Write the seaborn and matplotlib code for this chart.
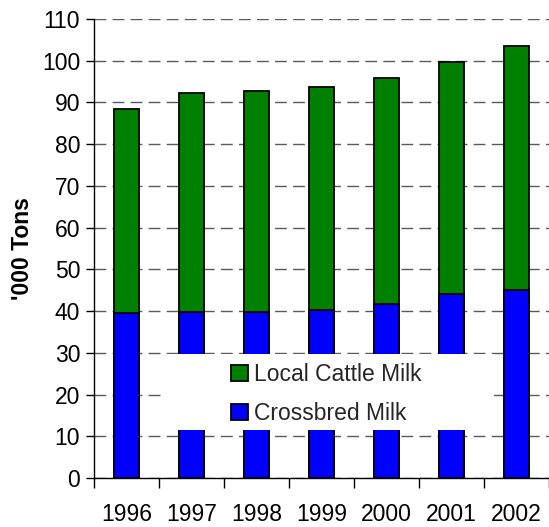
import matplotlib
matplotlib.use("Agg")
import matplotlib.pyplot as plt
from matplotlib.patches import Patch, Rectangle
from matplotlib.ticker import FixedLocator, MultipleLocator
import seaborn as sns
import pandas as pd

years = ["1996", "1997", "1998", "1999", "2000", "2001", "2002"]
crossbred = [39.5, 39.8, 39.8, 40.3, 41.6, 44.2, 45.1]
local_cattle = [49.0, 52.4, 53.0, 53.3, 54.2, 55.5, 58.5]
total = [c + l for c, l in zip(crossbred, local_cattle)]

df = pd.DataFrame({"Year": years, "Crossbred": crossbred, "Total": total})

sns.set_theme(style="white")
plt.rcParams["font.family"] = ["Liberation Sans", "DejaVu Sans"]

fig = plt.figure(figsize=(5.49, 5.27), dpi=100)
ax = fig.add_axes([94 / 549, 49 / 527, 455 / 549, 459 / 527])

green = "#008000"
blue = "#0000FF"
fs = 16.5

sns.barplot(data=df, x="Year", y="Total", order=years, color=green, width=0.385,
            edgecolor="black", linewidth=1.3, saturation=1, ax=ax, zorder=2)
sns.barplot(data=df, x="Year", y="Crossbred", order=years, color=blue, width=0.385,
            edgecolor="black", linewidth=1.3, saturation=1, ax=ax, zorder=2)

ax.set_xlim(-0.5, 6.5)
ax.set_ylim(0, 110)
ax.yaxis.set_major_locator(MultipleLocator(10))
ax.grid(axis="y", color="#5a5a5a", linestyle=(0, (8.5, 4.5)), linewidth=1, zorder=1)
ax.set_axisbelow(True)

for s in ["top", "right"]:
    ax.spines[s].set_visible(False)
for s in ["left", "bottom"]:
    ax.spines[s].set_color("black")
    ax.spines[s].set_linewidth(1)

ax.tick_params(axis="y", which="major", left=True, length=6, width=1, color="black",
               labelsize=fs, pad=4, labelcolor="black")
ax.tick_params(axis="x", which="major", bottom=False, length=0, labelsize=fs, pad=18,
               labelcolor="black")
ax.xaxis.set_minor_locator(FixedLocator([i - 0.5 for i in range(len(years) + 1)]))
ax.tick_params(axis="x", which="minor", bottom=True, length=7, width=1, color="black")

ax.set_xlabel("")
ax.set_ylabel("'000 Tons", fontsize=fs, fontweight="bold", labelpad=6, color="black")

# legend background box
ax.add_patch(Rectangle((69 / 455, 48 / 459), 331 / 455, 76 / 459, transform=ax.transAxes,
                       facecolor="white", edgecolor="none", zorder=5))
handles = [Patch(facecolor=green, edgecolor="black", linewidth=1.3, label="Local Cattle Milk"),
           Patch(facecolor=blue, edgecolor="black", linewidth=1.3, label="Crossbred Milk")]
leg = ax.legend(handles=handles, loc="center left", bbox_to_anchor=(137 / 455, 84 / 459),
                frameon=False, fontsize=fs, handlelength=0.72, handleheight=0.72,
                handletextpad=0.3, labelspacing=0.7, borderpad=0, borderaxespad=0)
leg.set_zorder(6)

fig.savefig("out.png", dpi=100)
